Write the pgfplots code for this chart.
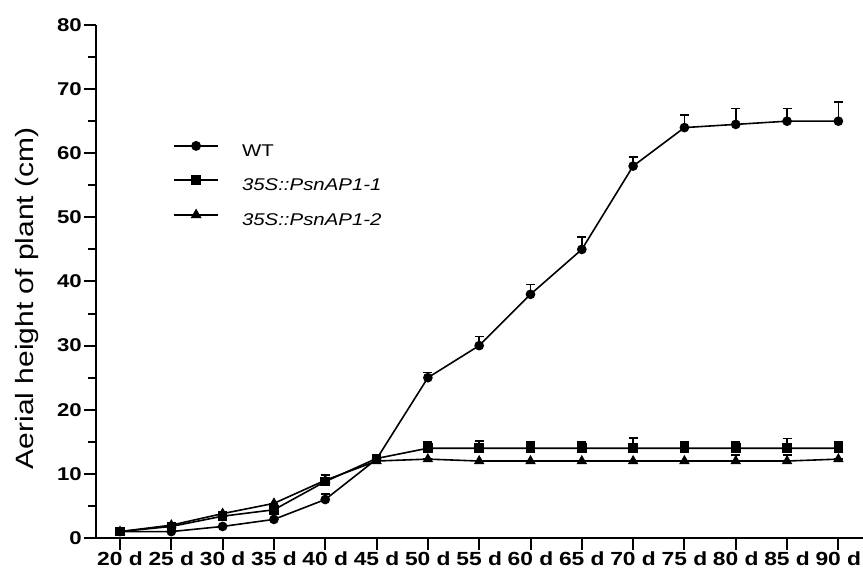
\documentclass[border=0pt]{standalone}
\usepackage{fontspec}
\setmainfont{Liberation Sans}
\usepackage{graphicx}
\usepackage{pgfplots}
\usepackage{pgfplotstable}
\pgfplotsset{compat=1.18}
\newcommand{\wide}[1]{\scalebox{1.2}[1]{#1}}

% day index (0 = 20 d, 14 = 90 d), mean height, upper error
\pgfplotstableread{
x y e
0 1.0 0
1 1.0 0
2 1.8 0
3 2.9 0
4 6.0 0.9
5 12.3 0
6 25.0 0.8
7 30.0 1.4
8 38.0 1.5
9 45.0 1.9
10 58.0 1.4
11 64.0 2.0
12 64.5 2.5
13 65.0 2.0
14 65.0 3.0
}\wt
\pgfplotstableread{
x y e
0 1.0 0
1 1.8 0
2 3.4 0
3 4.4 0.5
4 8.8 1.0
5 12.4 0
6 14.0 1.0
7 14.0 1.1
8 14.0 1.0
9 14.0 1.0
10 14.0 1.6
11 14.0 1.0
12 14.0 1.0
13 14.0 1.5
14 14.0 1.0
}\lineone
\pgfplotstableread{
x y e
0 1.0 0
1 2.0 0
2 3.8 0
3 5.4 0
4 9.0 0.8
5 12.0 0
6 12.3 0
7 12.0 0
8 12.0 0
9 12.0 0
10 12.0 0
11 12.0 0
12 12.0 0.9
13 12.0 0.9
14 12.3 0
}\linetwo

\begin{document}
\begin{tikzpicture}
\begin{axis}[
  name=ax,
  scale only axis,
  width=767pt, height=513pt,
  xmin=-0.468, xmax=14.48,
  ymin=0, ymax=80,
  axis x line*=bottom, axis y line*=left,
  axis line style={line width=2pt},
  tick align=outside,
  major tick length=12pt, minor tick length=8pt,
  tick style={black, line width=2pt},
  ytick={0,10,...,80},
  minor ytick={5,15,...,75},
  yticklabel={\wide{\pgfmathprintnumber{\tick}}},
  xtick={0,...,14},
  xticklabels={\wide{20 d},\wide{25 d},\wide{30 d},\wide{35 d},\wide{40 d},
    \wide{45 d},\wide{50 d},\wide{55 d},\wide{60 d},\wide{65 d},\wide{70 d},
    \wide{75 d},\wide{80 d},\wide{85 d},\wide{90 d}},
  yticklabel style={inner sep=2pt, font=\fontsize{18.5}{20}\selectfont\bfseries},
  xticklabel style={inner sep=2pt, font=\fontsize{19}{21}\selectfont\bfseries},
  /pgf/number format/assume math mode=true,
  ylabel={\wide{Aerial height of plant (cm)}},
  ylabel style={at={(axis description cs:-0.082,0.467)}, anchor=base, rotate=0,
    font=\fontsize{25}{30}\selectfont},
  legend cell align=left,
  legend image code/.code={\draw[mark repeat=2, mark phase=2, #1]
    plot coordinates {(0pt,6pt) (22pt,6pt) (44pt,6pt)};},
  legend image post style={line width=1.8pt},
  legend style={draw=none, fill=none, at={(axis cs:1.033,61.8)}, anchor=north west,
    inner sep=0pt, row sep=16pt, column sep=23pt,
    nodes={inner sep=0pt, text height=12.5pt, text depth=4pt},
    font=\fontsize{17}{19}\selectfont},
]
\addplot[black, line width=1.6pt, mark=*, mark size=4pt, mark options={solid, fill=black},
  error bars/.cd, y dir=plus, y explicit,
  error bar style={line width=1.6pt},
  error mark options={rotate=90, mark size=4.5pt, line width=1.6pt}]
  table[x=x, y=y, y error=e]{\wt};
\addlegendentry{\wide{WT}}
\addplot[black, line width=1.6pt, mark=square*, mark size=4pt, mark options={solid, fill=black},
  error bars/.cd, y dir=plus, y explicit,
  error bar style={line width=1.6pt},
  error mark options={rotate=90, mark size=4.5pt, line width=1.6pt}]
  table[x=x, y=y, y error=e]{\lineone};
\addlegendentry{\wide{\itshape 35S::PsnAP1-1}}
\addplot[black, line width=1.6pt, mark=triangle*, mark size=4.5pt, mark options={solid, fill=black},
  error bars/.cd, y dir=plus, y explicit,
  error bar style={line width=1.6pt},
  error mark options={rotate=90, mark size=4.5pt, line width=1.6pt}]
  table[x=x, y=y, y error=e]{\linetwo};
\addlegendentry{\wide{\itshape 35S::PsnAP1-2}}
\end{axis}
\pgfresetboundingbox
\path ([xshift=-96pt,yshift=-34pt]ax.south west) rectangle ([yshift=25pt]ax.north east);
\end{tikzpicture}
\end{document}
